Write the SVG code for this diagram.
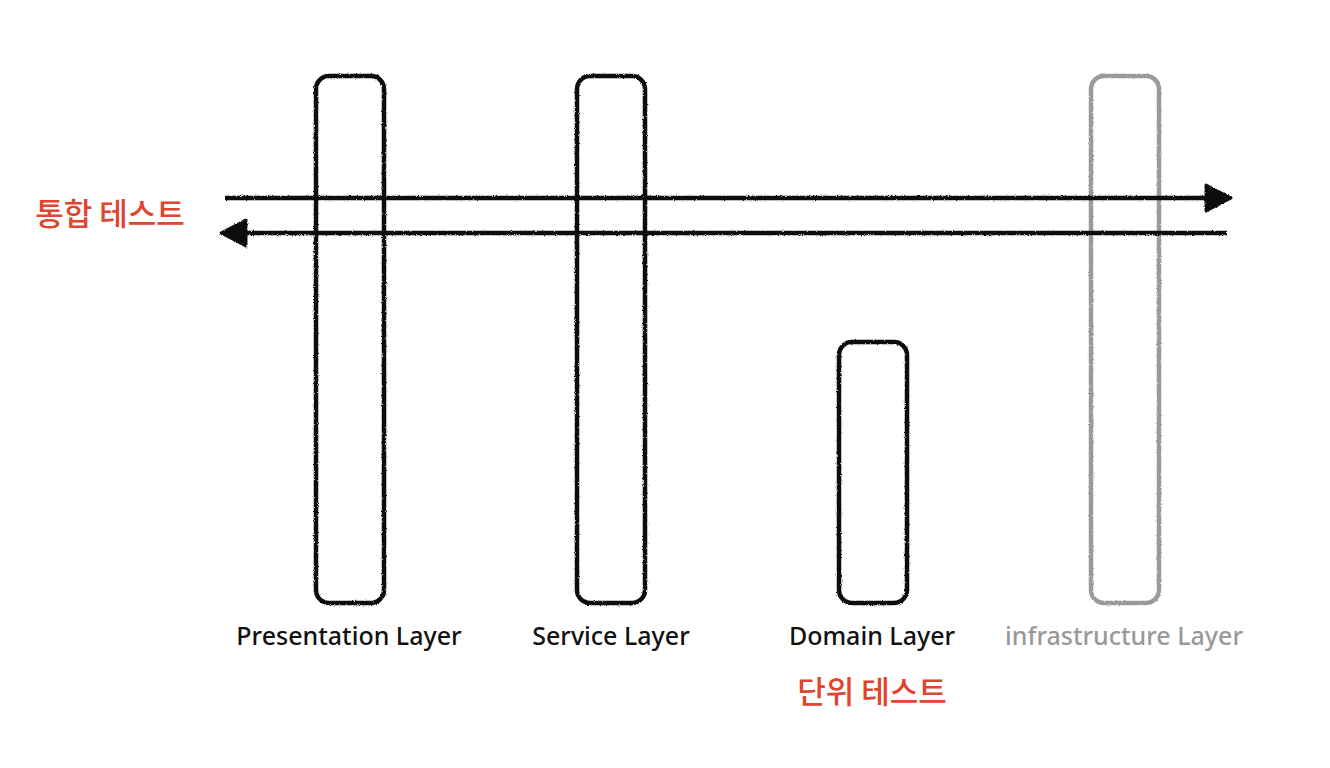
<svg xmlns="http://www.w3.org/2000/svg" width="1330" height="768" viewBox="0 0 1330 768">
<defs>
<filter id="rough" filterUnits="userSpaceOnUse" x="0" y="0" width="1330" height="768">
<feTurbulence type="fractalNoise" baseFrequency="0.9" numOctaves="2" seed="3" result="n"/>
<feDisplacementMap in="SourceGraphic" in2="n" scale="2.5" xChannelSelector="R" yChannelSelector="G"/>
</filter>
<marker id="ah" viewBox="0 0 30 32" refX="26" refY="16" markerWidth="30" markerHeight="32" markerUnits="userSpaceOnUse" orient="auto">
<path d="M3,3 L28,16 L3,29 Z" fill="#111" stroke="#111" stroke-width="3" stroke-linejoin="round"/>
</marker>
<style>
.layer{fill:none;stroke:#111;stroke-width:4.5}
.gray{stroke:#9a9a9a}
.line{fill:none;stroke:#111;stroke-width:4.5}
.lbl{font-family:"Noto Sans","Noto Sans CJK KR",sans-serif;font-size:25px;font-weight:500;fill:#111;text-anchor:middle}
.red{font-family:"Noto Sans CJK KR",sans-serif;font-size:31px;font-weight:500;fill:#e0452f;text-anchor:middle}
</style>
</defs>
<rect width="1330" height="768" fill="#fff"/>
<g id="presentation" filter="url(#rough)">
<rect class="layer" x="316" y="76" width="68" height="527" rx="13"/>
</g>
<g id="service" filter="url(#rough)">
<rect class="layer" x="577" y="76" width="68" height="527" rx="13"/>
</g>
<g id="domain" filter="url(#rough)">
<rect class="layer" x="839" y="342" width="68" height="261" rx="13"/>
</g>
<g id="infrastructure" filter="url(#rough)">
<rect class="layer gray" x="1091" y="76" width="68" height="527" rx="13"/>
</g>
<g id="connectors" filter="url(#rough)">
<path class="line" d="M225,198 L1229,198" marker-end="url(#ah)"/>
<path class="line" d="M1227,233 L223,233" marker-end="url(#ah)"/>
</g>
<g id="labels">
<text class="lbl" x="349" y="645">Presentation Layer</text>
<text class="lbl" x="611" y="645">Service Layer</text>
<text class="lbl" x="872" y="645">Domain Layer</text>
<text class="lbl" x="1124" y="645" style="fill:#999">infrastructure Layer</text>
<text class="red" x="110" y="225">통합 테스트</text>
<text class="red" x="872" y="703">단위 테스트</text>
</g>
</svg>
